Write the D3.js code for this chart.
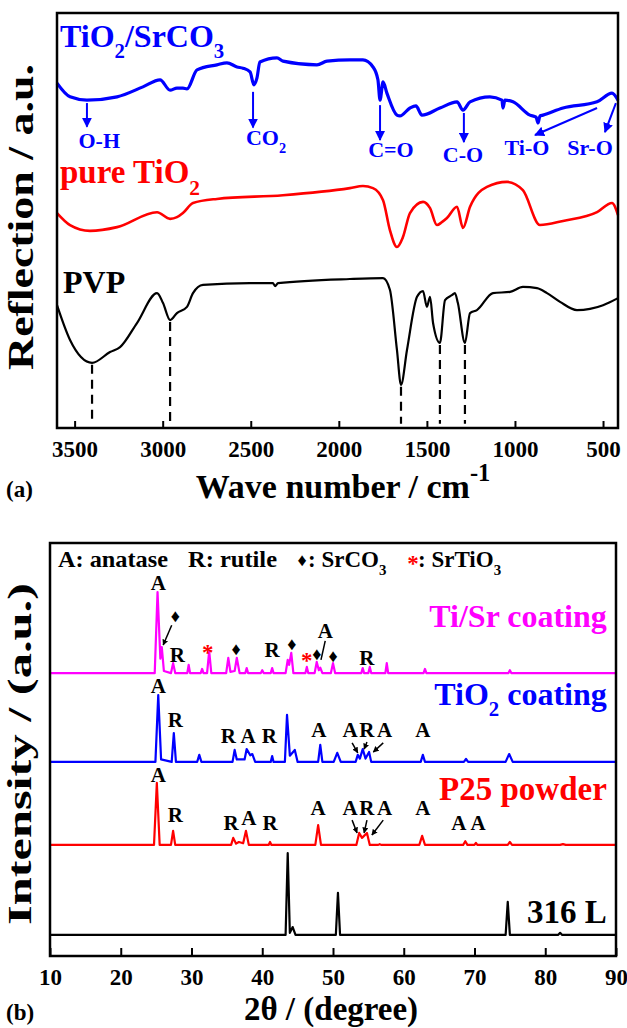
<!DOCTYPE html>
<html>
<head>
<meta charset="utf-8">
<script src="https://cdn.jsdelivr.net/npm/d3@7"></script>
<style>
  body { margin: 0; background: #fff; }
  svg text { font-family: "Liberation Serif", "Times New Roman", serif; font-weight: bold; }
</style>
</head>
<body>
<svg id="chart" width="627" height="1028"></svg>
<script>
// ---------- panel (a): FTIR, [wave number, reflection a.u.] ----------
const ftirTicks = [3500, 3000, 2500, 2000, 1500, 1000, 500];

const ftirTiSr = [[3600,83.1],[3526,79.8],[3430,79.0],[3259,79.8],[3112,82.2],[3015,83.9],[2958,81.4],
  [2919,81.9],[2885,81.9],[2862,81.7],[2805,86.3],[2692,87.5],[2635,88.0],[2578,87.0],[2544,86.7],
  [2504,85.8],[2482,82.7],[2465,84.3],[2448,88.2],[2351,89.2],[2317,88.4],[2124,87.5],[2067,88.4],
  [1937,88.7],[1863,88.7],[1806,87.0],[1778,83.9],[1766,79.0],[1749,83.4],[1727,80.7],[1670,75.4],
  [1653,75.2],[1596,77.1],[1562,77.6],[1528,75.4],[1426,77.1],[1329,78.6],[1295,76.6],[1255,78.6],
  [1142,79.8],[1074,79.0],[1068,77.1],[1057,79.0],[1011,78.6],[915,75.4],[880,74.9],[869,73.5],
  [858,75.2],[841,75.4],[727,77.1],[534,78.6],[449,80.7],[415,79.0]];

const ftirTiO2 = [[3600,51.8],[3526,48.9],[3413,47.5],[3259,48.4],[3032,52.0],[2958,50.4],[2919,50.8],
  [2885,51.8],[2828,54.2],[2692,55.2],[2317,56.1],[1937,57.8],[1863,58.3],[1806,57.8],[1749,54.9],
  [1710,47.7],[1670,43.6],[1636,46.0],[1596,51.8],[1522,54.5],[1482,53.0],[1443,48.9],[1415,49.6],
  [1386,50.6],[1329,53.3],[1295,48.2],[1255,53.3],[1159,58.1],[1045,59.3],[955,57.3],[858,48.9],
  [727,49.9],[534,52.0],[449,54.2],[415,51.3]];

const ftirPVP = [[3600,29.6],[3526,21.2],[3401,15.7],[3299,18.3],[3242,19.5],[3146,25.3],[3032,32.5],
  [2998,30.1],[2958,26.0],[2919,27.7],[2862,29.2],[2828,32.5],[2771,34.5],[2504,34.9],[2374,34.9],
  [2362,34.2],[2345,34.9],[1937,35.9],[1749,36.1],[1710,33.3],[1670,18.8],[1647,10.4],[1613,18.8],
  [1556,31.6],[1522,33.0],[1500,29.2],[1482,31.6],[1465,25.3],[1426,20.5],[1397,30.8],[1358,32.0],
  [1341,32.5],[1324,30.1],[1284,20.5],[1255,27.7],[1216,28.4],[1125,32.5],[1028,32.8],[955,34.0],
  [875,33.7],[818,32.5],[744,30.4],[648,28.4],[574,28.7],[500,29.6],[415,31.3]];

const ftirDashes = [3401, 2958, 1647, 1426, 1284];

// band arrows: label, arrow from (w1,y1) to (w2,y2), label at (lw, ly)
const ftirBands = [
  { label: "O-H",  w1: 3430, y1: 78.3, w2: 3430, y2: 72.6, lw: 3360, ly: 67.5 },
  { label: "CO_2", w1: 2487, y1: 81.0, w2: 2487, y2: 72.4, lw: 2413, ly: 68.2 },
  { label: "C=O",  w1: 1766, y1: 77.8, w2: 1766, y2: 69.4, lw: 1704, ly: 65.3 },
  { label: "C-O",  w1: 1290, y1: 75.9, w2: 1290, y2: 68.9, lw: 1295, ly: 64.1 },
  { label: "Ti-O", w1: 534,  y1: 77.1, w2: 886,  y2: 70.6, lw: 932,  ly: 65.8 },
  { label: "Sr-O", w1: 427,  y1: 78.3, w2: 489,  y2: 71.3, lw: 574,  ly: 65.8 }
];

// ---------- panel (b): XRD, [2theta, intensity a.u.] ----------
const xrdTicks = [10, 20, 30, 40, 50, 60, 70, 80, 90];

const xrdTiSr = [[10,68.5],[24.8,68.5],[25.2,88.1],[25.6,72.0],[25.8,74.8],[26.1,69.0],[27.1,68.5],
  [27.4,70.9],[27.7,68.5],[29.4,68.5],[29.6,70.5],[29.8,68.5],[31.3,68.5],[31.5,69.5],[31.7,68.5],
  [32.2,68.5],[32.5,73.8],[32.8,68.5],[34.9,68.5],[35.2,72.2],[35.5,68.8],[36.1,69.0],[36.4,72.2],
  [36.8,68.5],[37.6,68.5],[37.8,69.7],[38.0,68.5],[39.8,68.5],[40.0,69.2],[40.2,68.5],[41.2,68.5],
  [41.4,69.7],[41.6,68.5],[43.3,68.5],[43.6,71.7],[43.8,70.5],[44.1,73.4],[44.4,68.5],[46.1,68.5],
  [46.3,70.0],[46.5,68.5],[47.4,68.5],[47.7,71.2],[48.0,69.2],[48.2,69.8],[48.5,68.5],[49.7,68.5],
  [50.0,70.9],[50.3,68.5],[54.0,68.5],[54.2,69.7],[54.4,68.5],[55.0,68.5],[55.2,70.0],[55.4,68.5],
  [57.4,68.5],[57.6,70.9],[57.8,68.5],[62.8,68.5],[63.0,69.5],[63.2,68.5],[74.8,68.5],[75.0,69.2],
  [75.2,68.5],[90,68.5]];

const xrdTiO2 = [[10,47.0],[24.9,47.0],[25.3,63.2],[25.7,47.6],[27.2,47.0],[27.5,54.0],[27.8,47.0],
  [30.8,47.0],[31.1,48.7],[31.4,47.0],[35.8,47.0],[36.1,49.9],[36.4,47.6],[37.5,47.6],[37.8,50.1],
  [38.3,48.6],[38.6,48.9],[39.0,47.0],[41.2,47.0],[41.4,48.4],[41.6,47.0],[43.2,47.0],[43.5,58.4],
  [43.9,48.5],[44.6,49.9],[45.0,47.0],[47.9,47.0],[48.2,51.1],[48.5,47.0],[50.1,47.0],[50.6,49.2],
  [51.1,47.0],[53.2,47.0],[53.5,48.7],[53.8,47.8],[54.2,50.1],[54.6,47.8],[55.1,49.4],[55.4,47.0],
  [62.4,47.0],[62.7,48.7],[63.0,47.0],[68.5,47.0],[68.8,47.7],[69.1,47.0],[74.4,47.0],[74.9,48.9],
  [75.4,47.0],[90,47.0]];

const xrdP25 = [[10,26.9],[24.7,26.9],[25.1,41.9],[25.5,26.9],[27.1,26.9],[27.4,30.3],[27.7,26.9],
  [35.6,26.9],[35.9,28.6],[36.3,27.2],[36.7,27.6],[37.3,27.3],[37.7,30.3],[38.1,26.9],[40.9,26.9],
  [41.1,27.6],[41.3,26.9],[47.5,26.9],[47.9,31.7],[48.3,26.9],[53.3,26.9],[53.7,29.8],[54.1,28.6],
  [54.8,29.8],[55.2,26.9],[56.4,26.9],[56.6,27.1],[56.8,26.9],[62.2,26.9],[62.6,29.1],[63.0,26.9],
  [68.4,26.9],[68.7,27.8],[69.0,26.9],[70.0,26.9],[70.2,27.4],[70.4,26.9],[74.7,26.9],[75.0,27.6],
  [75.3,26.9],[82.1,26.9],[82.5,27.1],[82.9,26.9],[90,26.9]];

const xrd316L = [[10,5.1],[43.3,5.1],[43.6,24.9],[43.9,5.6],[44.3,7.0],[44.7,5.1],[50.4,5.1],
  [50.7,15.3],[51.0,5.1],[74.4,5.1],[74.7,13.1],[75.0,5.1],[81.8,5.1],[82.1,5.6],[82.4,5.1],[90,5.1]];

// peak letters [text, 2theta, intensity, colour]
const xrdMarks = [
  ["A",25.3,88.6,"#000"],["R",28.0,71.2,"#000"],["R",41.4,72.4,"#000"],["A",48.9,77.0,"#000"],
  ["R",54.8,70.5,"#000"],
  ["\u2666",27.7,80.9,"#000"],["\u2666",36.3,72.9,"#000"],["\u2666",44.2,74.1,"#000"],
  ["\u2666",47.7,71.7,"#000"],["\u2666",50.0,71.2,"#000"],
  ["*",32.3,71.6,"#ff0000"],["*",46.3,69.7,"#ff0000"],
  ["A",25.3,63.7,"#000"],["R",27.7,55.4,"#000"],["R",35.2,51.6,"#000"],["A",38.0,51.6,"#000"],
  ["R",41.0,51.6,"#000"],["A",48.0,53.0,"#000"],["A",52.4,53.0,"#000"],["R",54.8,53.0,"#000"],
  ["A",57.3,53.0,"#000"],["A",62.7,53.0,"#000"],
  ["A",25.3,42.1,"#000"],["R",27.7,32.4,"#000"],["R",35.6,30.5,"#000"],["A",38.1,31.7,"#000"],
  ["R",41.1,30.5,"#000"],["A",47.9,34.1,"#000"],["A",52.4,34.1,"#000"],["R",54.8,34.1,"#000"],
  ["A",57.3,34.1,"#000"],["A",62.7,34.1,"#000"],["A",67.8,30.5,"#000"],["A",70.5,30.5,"#000"]
];

// pointer lines [t1, y1, t2, y2, arrow head]
const xrdPointers = [
  [27.2,80.1,26.0,75.3,true],[48.9,76.3,48.3,71.7,false],
  [52.7,51.6,53.5,49.2,true],[54.8,51.8,54.4,50.1,true],[57.1,51.6,55.7,49.4,true],
  [52.7,32.9,53.4,29.8,true],[54.8,32.9,54.4,29.8,true],[57.1,32.9,55.5,29.3,true]
];

// ---------- drawing ----------
const svg = d3.select("#chart");

const defs = svg.append("defs");
function arrowHead(id, color, size) {
  defs.append("marker")
    .attr("id", id).attr("viewBox", "0 0 10 10")
    .attr("refX", 9).attr("refY", 5)
    .attr("markerUnits", "userSpaceOnUse")
    .attr("markerWidth", size).attr("markerHeight", size)
    .attr("orient", "auto")
    .append("path").attr("d", "M0,0 L10,5 L0,10 z").attr("fill", color);
}
arrowHead("headBlue", "#0000ff", 10);
arrowHead("headBlack", "#000", 6);

// text with _x subscripts and ^{x} superscripts
function rich(t, str, size) {
  const parts = str.split(/([_^]\{[^}]*\}|[_^].)/).filter(s => s.length);
  let off = 0;
  parts.forEach(p => {
    let target = 0, txt = p, fs = null;
    if (p[0] === "_" || p[0] === "^") {
      txt = p.slice(1).replace(/[{}]/g, "");
      target = p[0] === "_" ? size * 0.35 : -size * 0.5;
      fs = size * (p[0] === "_" ? 0.65 : 0.72);
    }
    t.append("tspan").attr("dy", target - off).attr("font-size", fs).text(txt);
    off = target;
  });
}

function styleAxis(g) {
  g.select(".domain").remove();
  g.selectAll("line").attr("stroke", "#000").attr("stroke-width", 2);
  g.selectAll("text").attr("font-size", 23).attr("fill", "#000")
    .attr("font-family", "Liberation Serif").attr("font-weight", "bold");
}

// ---- panel (a)
const xA = d3.scaleLinear().domain([3600, 415]).range([57, 618]);
const yA = d3.scaleLinear().domain([0, 100]).range([428, 13]);
const lineA = d3.line().x(d => xA(d[0])).y(d => yA(d[1])).curve(d3.curveMonotoneX);

const gA = svg.append("g");

gA.append("g")
  .attr("transform", `translate(0,${yA(0)})`)
  .call(d3.axisBottom(xA).tickValues(ftirTicks).tickFormat(d3.format("d"))
    .tickSizeInner(-7).tickSizeOuter(0).tickPadding(13))
  .call(styleAxis);

gA.selectAll(".dash").data(ftirDashes).join("line")
  .attr("x1", d => xA(d)).attr("x2", d => xA(d))
  .attr("y1", d => yA(ftirPVP.find(q => q[0] === d)[1]) + 2)
  .attr("y2", yA(1))
  .attr("stroke", "#000").attr("stroke-width", 2.2).attr("stroke-dasharray", "9,6");

[[ftirTiSr, "#0000ff", 3.2], [ftirTiO2, "#ff0000", 2.6], [ftirPVP, "#000", 2.2]].forEach(([d, c, w]) => {
  gA.append("path").datum(d).attr("d", lineA)
    .attr("fill", "none").attr("stroke", c).attr("stroke-width", w).attr("stroke-linejoin", "round");
});

ftirBands.forEach(b => {
  gA.append("line")
    .attr("x1", xA(b.w1)).attr("y1", yA(b.y1)).attr("x2", xA(b.w2)).attr("y2", yA(b.y2))
    .attr("stroke", "#0000ff").attr("stroke-width", 2).attr("marker-end", "url(#headBlue)");
  const t = gA.append("text").attr("x", xA(b.lw)).attr("y", yA(b.ly))
    .attr("text-anchor", "middle").attr("font-size", 22).attr("fill", "#0000ff");
  rich(t, b.label, 22);
});

rich(gA.append("text").attr("x", xA(3583)).attr("y", yA(91.8)).attr("font-size", 32).attr("fill", "#0000ff"), "TiO_2/SrCO_3", 32);
rich(gA.append("text").attr("x", xA(3583)).attr("y", yA(59.0)).attr("font-size", 33).attr("fill", "#ff0000"), "pure TiO_2", 33);
gA.append("text").attr("x", xA(3566)).attr("y", yA(32.5)).attr("font-size", 32).attr("fill", "#000").text("PVP");

gA.append("rect").attr("x", 57).attr("y", 13).attr("width", 561).attr("height", 415)
  .attr("fill", "none").attr("stroke", "#000").attr("stroke-width", 2.5);

gA.append("text").attr("transform", "translate(33,217) rotate(-90)")
  .attr("text-anchor", "middle").attr("font-size", 35)
  .attr("textLength", 306).attr("lengthAdjust", "spacingAndGlyphs")
  .text("Reflection / a.u.");
rich(gA.append("text").attr("x", 343).attr("y", 498).attr("text-anchor", "middle").attr("font-size", 34),
  "Wave number / cm^{-1}", 34);
gA.append("text").attr("x", 6).attr("y", 497).attr("font-size", 23).text("(a)");

// ---- panel (b)
const xB = d3.scaleLinear().domain([10, 90]).range([50, 616]);
const yB = d3.scaleLinear().domain([0, 100]).range([956, 543]);
const lineB = d3.line().x(d => xB(d[0])).y(d => yB(d[1]));

const gB = svg.append("g");

gB.append("g")
  .attr("transform", `translate(0,${yB(0)})`)
  .call(d3.axisBottom(xB).tickValues(xrdTicks).tickSizeInner(-8).tickSizeOuter(0).tickPadding(13))
  .call(styleAxis);

[[xrdTiSr, "#ff00ff"], [xrdTiO2, "#0000ff"], [xrdP25, "#ff0000"], [xrd316L, "#000"]].forEach(([d, c]) => {
  gB.append("path").datum(d).attr("d", lineB)
    .attr("fill", "none").attr("stroke", c).attr("stroke-width", 2.2).attr("stroke-linejoin", "round");
});

gB.selectAll(".mark").data(xrdMarks).join("text")
  .attr("x", d => xB(d[1])).attr("y", d => yB(d[2]))
  .attr("text-anchor", "middle")
  .attr("font-size", d => d[0] === "\u2666" ? 18 : d[0] === "*" ? 23 : 21)
  .attr("font-family", d => d[0] === "\u2666" ? "DejaVu Sans" : null)
  .attr("fill", d => d[3])
  .text(d => d[0]);

gB.selectAll(".ptr").data(xrdPointers).join("line")
  .attr("x1", d => xB(d[0])).attr("y1", d => yB(d[1]))
  .attr("x2", d => xB(d[2])).attr("y2", d => yB(d[3]))
  .attr("stroke", "#000").attr("stroke-width", 1.5)
  .attr("marker-end", d => d[4] ? "url(#headBlack)" : null);

// legend row
const legY = 567;
gB.append("text").attr("x", 58).attr("y", legY).attr("font-size", 23)
  .attr("textLength", 110).attr("lengthAdjust", "spacingAndGlyphs").text("A: anatase");
gB.append("text").attr("x", 188).attr("y", legY).attr("font-size", 23)
  .attr("textLength", 89).attr("lengthAdjust", "spacingAndGlyphs").text("R: rutile");
gB.append("text").attr("x", 302).attr("y", legY - 1).attr("text-anchor", "middle").attr("font-size", 18)
  .attr("font-family", "DejaVu Sans").text("\u2666");
rich(gB.append("text").attr("x", 308).attr("y", legY).attr("font-size", 23), ": SrCO_3", 23);
gB.append("text").attr("x", 413).attr("y", legY + 4).attr("text-anchor", "middle").attr("font-size", 23)
  .attr("fill", "#ff0000").text("*");
rich(gB.append("text").attr("x", 418).attr("y", legY).attr("font-size", 23), ": SrTiO_3", 23);

// series names
const nameX = xB(88.7);
gB.append("text").attr("x", nameX).attr("y", yB(79.7)).attr("text-anchor", "end").attr("font-size", 32)
  .attr("fill", "#ff00ff").text("Ti/Sr coating");
rich(gB.append("text").attr("x", nameX).attr("y", yB(60.8)).attr("text-anchor", "end").attr("font-size", 32)
  .attr("fill", "#0000ff"), "TiO_2 coating", 32);
gB.append("text").attr("x", nameX).attr("y", yB(37.8)).attr("text-anchor", "end").attr("font-size", 33)
  .attr("fill", "#ff0000").text("P25 powder");
gB.append("text").attr("x", nameX).attr("y", yB(8.0)).attr("text-anchor", "end").attr("font-size", 33)
  .attr("fill", "#000").text("316 L");

gB.append("rect").attr("x", 50).attr("y", 543).attr("width", 566).attr("height", 413)
  .attr("fill", "none").attr("stroke", "#000").attr("stroke-width", 2.5);

gB.append("text").attr("transform", "translate(31,754) rotate(-90)")
  .attr("text-anchor", "middle").attr("font-size", 34)
  .attr("textLength", 342).attr("lengthAdjust", "spacingAndGlyphs")
  .text("Intensity / (a.u.)");
gB.append("text").attr("x", 331).attr("y", 1020).attr("text-anchor", "middle").attr("font-size", 33)
  .text("2\u03b8 / (degree)");
gB.append("text").attr("x", 6).attr("y", 1020).attr("font-size", 23).text("(b)");
</script>
</body>
</html>
